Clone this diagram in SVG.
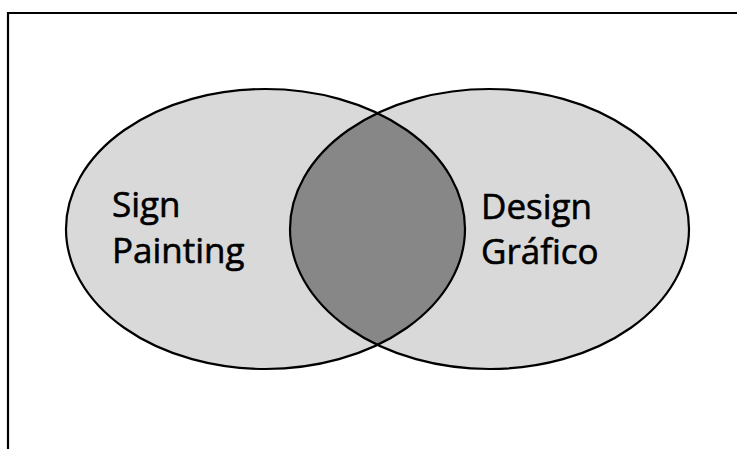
<svg xmlns="http://www.w3.org/2000/svg" width="737" height="449" viewBox="0 0 737 449">
<style>
.set{fill:#d9d9d9;stroke:none}
.edge{fill:none;stroke:#000;stroke-width:2.2}
.lbl{font-family:"Open Sans","Liberation Sans",sans-serif;font-size:35px;fill:#000;stroke:#000;stroke-width:0.6}
</style>
<defs>
<clipPath id="clipL"><ellipse cx="265.5" cy="229" rx="199.5" ry="140"/></clipPath>
</defs>
<rect width="737" height="449" fill="#fff"/>
<path d="M8 449 V13 H737" fill="none" stroke="#000" stroke-width="2.2"/>
<g id="left-set"><ellipse class="set" cx="265.5" cy="229" rx="199.5" ry="140"/></g>
<g id="right-set"><ellipse class="set" cx="489.5" cy="229" rx="199.5" ry="140"/></g>
<g id="intersection"><ellipse cx="489.5" cy="229" rx="199.5" ry="140" fill="#878787" clip-path="url(#clipL)"/></g>
<g id="connectors">
<ellipse class="edge" cx="265.5" cy="229" rx="199.5" ry="140"/>
<ellipse class="edge" cx="489.5" cy="229" rx="199.5" ry="140"/>
</g>
<g id="labels">
<text class="lbl" x="112" y="217">Sign</text>
<text class="lbl" x="112" y="263">Painting</text>
<text class="lbl" x="481" y="219">Design</text>
<text class="lbl" x="481" y="264">Gráfico</text>
</g>
</svg>
